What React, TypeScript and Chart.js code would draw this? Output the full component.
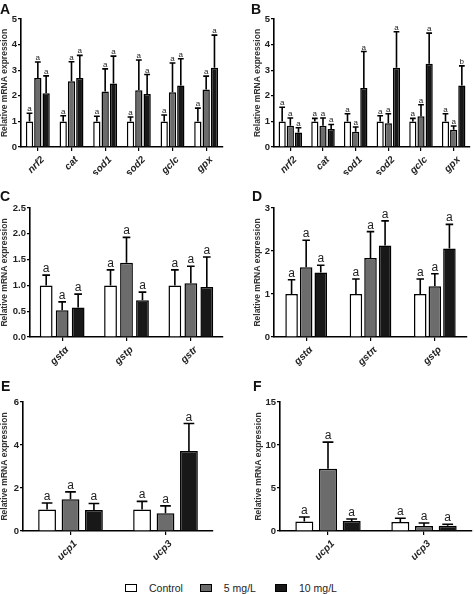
import React, { useEffect, useRef } from "react";
import { Chart, registerables } from "chart.js";

Chart.register(...registerables);

// ---------- data ----------
const seriesNames = ["Control", "5 mg/L", "10 mg/L"];

const catsA = ["nrf2", "cat", "sod1", "sod2", "gclc", "gpx"];
const ctrlA = [1, 1, 1, 1, 1, 1];
const ctrlSdA = [0.32, 0.22, 0.2, 0.17, 0.25, 0.52];
const low5A = [2.7, 2.57, 2.17, 2.22, 2.14, 2.25];
const low5SdA = [0.62, 0.76, 0.88, 1.18, 1.14, 0.52];
const high10A = [2.1, 2.7, 2.48, 2.07, 2.4, 3.1];
const high10SdA = [0.68, 0.88, 1.07, 0.76, 1.05, 1.27];
const sigCtrlA = ["a", "a", "a", "a", "a", "a"];
const sig5A = ["a", "a", "a", "a", "a", "a"];
const sig10A = ["a", "a", "a", "a", "a", "a"];
const ticksA = [0, 1, 2, 3, 4, 5];

const catsB = ["nrf2", "cat", "sod1", "sod2", "gclc", "gpx"];
const ctrlB = [1, 1, 1, 1, 1, 1];
const ctrlSdB = [0.55, 0.12, 0.3, 0.22, 0.12, 0.3];
const low5B = [0.83, 0.83, 0.6, 0.93, 1.2, 0.67];
const low5SdB = [0.3, 0.3, 0.18, 0.37, 0.45, 0.15];
const high10B = [0.57, 0.7, 2.3, 3.1, 3.25, 2.4];
const high10SdB = [0.18, 0.18, 1.43, 1.4, 1.2, 0.77];
const sigCtrlB = ["a", "a", "a", "a", "a", "a"];
const sig5B = ["a", "a", "a", "a", "a", "a"];
const sig10B = ["a", "a", "a", "a", "a", "b"];
const ticksB = [0, 1, 2, 3, 4, 5];

const catsC = ["gstα", "gstp", "gstr"];
const ctrlC = [1, 1, 1];
const ctrlSdC = [0.2, 0.3, 0.3];
const low5C = [0.52, 1.44, 1.04];
const low5SdC = [0.16, 0.49, 0.33];
const high10C = [0.57, 0.71, 0.97];
const high10SdC = [0.26, 0.16, 0.58];
const sigCtrlC = ["a", "a", "a"];
const sig5C = ["a", "a", "a"];
const sig10C = ["a", "a", "a"];
const ticksC = [0, 0.5, 1, 1.5, 2, 2.5];

const catsD = ["gstα", "gstπ", "gstρ"];
const ctrlD = [1, 1, 1];
const ctrlSdD = [0.33, 0.35, 0.35];
const low5D = [1.62, 1.84, 1.18];
const low5SdD = [0.63, 0.61, 0.29];
const high10D = [1.5, 2.13, 2.06];
const high10SdD = [0.17, 0.57, 0.56];
const sigCtrlD = ["a", "a", "a"];
const sig5D = ["a", "a", "a"];
const sig10D = ["a", "a", "a"];
const ticksD = [0, 1, 2, 3];

const catsE = ["ucp1", "ucp3"];
const ctrlE = [1, 1];
const ctrlSdE = [0.3, 0.38];
const low5E = [1.48, 0.83];
const low5SdE = [0.34, 0.34];
const high10E = [0.98, 3.72];
const high10SdE = [0.3, 1.28];
const sigCtrlE = ["a", "a"];
const sig5E = ["a", "a"];
const sig10E = ["a", "a"];
const ticksE = [0, 2, 4, 6];

const catsF = ["ucp1", "ucp3"];
const ctrlF = [1.1, 1.05];
const ctrlSdF = [0.52, 0.43];
const low5F = [7.24, 0.58];
const low5SdF = [3.1, 0.35];
const high10F = [1.15, 0.62];
const high10SdF = [0.25, 0.16];
const sigCtrlF = ["a", "a"];
const sig5F = ["a", "a"];
const sig10F = ["a", "a"];
const ticksF = [0, 5, 10, 15];

// ---------- styles ----------
const FONT = "'Liberation Sans', Arial, Helvetica, sans-serif";
const fills = ["#ffffff", "#6c6c6c", "#181818"];

type Panel = {
  letter: string;
  cats: string[];
  values: number[][];
  sds: number[][];
  sigs: string[][];
  ticks: number[];
  decimals: number;
  left: number;
  top: number;
  w: number;
  h: number;
  padLeft: number;
  yW: number;
  padTop: number;
  padRight: number;
  xH: number;
  catPct: number;
  barPct: number;
  capRatio: number;
  sigSize: number;
  sigGap: number;
  letterX: number;
  letterY: number;
};

const panels: Panel[] = [
  {
    letter: "A", cats: catsA,
    values: [ctrlA, low5A, high10A], sds: [ctrlSdA, low5SdA, high10SdA], sigs: [sigCtrlA, sig5A, sig10A],
    ticks: ticksA, decimals: 0,
    left: 0, top: 0, w: 237, h: 175, padLeft: 0, yW: 21, padTop: 19, padRight: 14, xH: 28,
    catPct: 0.74, barPct: 0.88, capRatio: 0.8, sigSize: 8, sigGap: 1, letterX: 0, letterY: 2,
  },
  {
    letter: "B", cats: catsB,
    values: [ctrlB, low5B, high10B], sds: [ctrlSdB, low5SdB, high10SdB], sigs: [sigCtrlB, sig5B, sig10B],
    ticks: ticksB, decimals: 0,
    left: 237, top: 0, w: 237, h: 175, padLeft: 16, yW: 21, padTop: 19, padRight: 4, xH: 28,
    catPct: 0.75, barPct: 0.88, capRatio: 0.8, sigSize: 8, sigGap: 1, letterX: 251, letterY: 2,
  },
  {
    letter: "C", cats: catsC,
    values: [ctrlC, low5C, high10C], sds: [ctrlSdC, low5SdC, high10SdC], sigs: [sigCtrlC, sig5C, sig10C],
    ticks: ticksC, decimals: 1,
    left: 0, top: 175, w: 237, h: 195, padLeft: 0, yW: 30, padTop: 33, padRight: 14, xH: 33,
    catPct: 0.745, barPct: 0.8, capRatio: 0.6, sigSize: 12, sigGap: 2, letterX: 0, letterY: 189,
  },
  {
    letter: "D", cats: catsD,
    values: [ctrlD, low5D, high10D], sds: [ctrlSdD, low5SdD, high10SdD], sigs: [sigCtrlD, sig5D, sig10D],
    ticks: ticksD, decimals: 0,
    left: 237, top: 175, w: 237, h: 195, padLeft: 16, yW: 21, padTop: 33, padRight: 7, xH: 33,
    catPct: 0.68, barPct: 0.86, capRatio: 0.6, sigSize: 12, sigGap: 2, letterX: 252, letterY: 189,
  },
  {
    letter: "E", cats: catsE,
    values: [ctrlE, low5E, high10E], sds: [ctrlSdE, low5SdE, high10SdE], sigs: [sigCtrlE, sig5E, sig10E],
    ticks: ticksE, decimals: 0,
    left: 0, top: 370, w: 237, h: 190, padLeft: 0, yW: 23, padTop: 32, padRight: 24, xH: 29,
    catPct: 0.74, barPct: 0.76, capRatio: 0.6, sigSize: 12, sigGap: 2, letterX: 1, letterY: 379,
  },
  {
    letter: "F", cats: catsF,
    values: [ctrlF, low5F, high10F], sds: [ctrlSdF, low5SdF, high10SdF], sigs: [sigCtrlF, sig5F, sig10F],
    ticks: ticksF, decimals: 0,
    left: 237, top: 370, w: 237, h: 190, padLeft: 17, yW: 26, padTop: 32, padRight: 2, xH: 29,
    catPct: 0.74, barPct: 0.76, capRatio: 0.6, sigSize: 12, sigGap: 2, letterX: 253, letterY: 379,
  },
];

const errorBarPlugin = {
  id: "errorBars",
  afterDatasetsDraw(chart: any, _args: any, opts: any) {
    const ctx = chart.ctx;
    const yScale = chart.scales.y;
    chart.data.datasets.forEach((ds: any, i: number) => {
      const meta = chart.getDatasetMeta(i);
      meta.data.forEach((bar: any, j: number) => {
        const v = ds.data[j];
        const sd = ds.sd[j];
        const base = yScale.getPixelForValue(v);
        const top = yScale.getPixelForValue(v + sd);
        const half = (bar.width * opts.capRatio) / 2;
        ctx.save();
        ctx.strokeStyle = "#000";
        ctx.lineWidth = 1.6;
        ctx.beginPath();
        ctx.moveTo(bar.x, base);
        ctx.lineTo(bar.x, top);
        ctx.moveTo(bar.x - half, top);
        ctx.lineTo(bar.x + half, top);
        ctx.stroke();
        ctx.fillStyle = "#222";
        ctx.font = `${opts.sigSize}px ${FONT}`;
        ctx.textAlign = "center";
        ctx.textBaseline = "alphabetic";
        ctx.fillText(ds.sig[j], bar.x, top - opts.sigGap - 1);
        ctx.restore();
      });
    });
  },
};

function PanelChart({ p }: { p: Panel }) {
  const ref = useRef<HTMLCanvasElement | null>(null);
  useEffect(() => {
    if (!ref.current) return;
    const maxTick = p.ticks[p.ticks.length - 1];
    const chart = new Chart(ref.current, {
      type: "bar",
      data: {
        labels: p.cats,
        datasets: seriesNames.map((name, i) => ({
          label: name,
          data: p.values[i],
          sd: p.sds[i],
          sig: p.sigs[i],
          backgroundColor: fills[i],
          borderColor: "#000",
          borderWidth: 1.5,
          borderSkipped: "start",
          categoryPercentage: p.catPct,
          barPercentage: p.barPct,
        })) as any,
      },
      options: {
        animation: false,
        responsive: false,
        devicePixelRatio: 1,
        events: [],
        layout: { padding: { left: p.padLeft, top: p.padTop, right: p.padRight, bottom: 0 } },
        plugins: {
          legend: { display: false },
          tooltip: { enabled: false },
          errorBars: { capRatio: p.capRatio, sigSize: p.sigSize, sigGap: p.sigGap },
        } as any,
        scales: {
          x: {
            offset: true,
            grid: {
              offset: false,
              drawOnChartArea: false,
              drawTicks: true,
              tickLength: 4,
              color: "#000",
              lineWidth: 1.2,
            },
            border: { display: true, color: "#000", width: 1.6 },
            ticks: {
              autoSkip: false,
              minRotation: 45,
              maxRotation: 45,
              padding: 3,
              labelOffset: 5,
              color: "#222",
              font: { family: FONT, size: 10, weight: "bold", style: "italic" },
            },
            afterFit: (s: any) => {
              s.height = p.xH;
            },
          },
          y: {
            min: 0,
            max: maxTick,
            afterBuildTicks: (s: any) => {
              s.ticks = p.ticks.map((v) => ({ value: v }));
            },
            grid: {
              drawOnChartArea: false,
              drawTicks: true,
              tickLength: 3,
              color: "#000",
              lineWidth: 1.2,
            },
            border: { display: true, color: "#000", width: 1.6 },
            ticks: {
              padding: 1,
              color: "#222",
              font: { family: FONT, size: 9.5, weight: "bold" },
              callback: (v: any) => Number(v).toFixed(p.decimals),
            },
            title: {
              display: true,
              text: "Relative mRNA expression",
              color: "#333",
              padding: 0,
              font: { family: FONT, size: 8.5, weight: "bold" },
            },
            afterFit: (s: any) => {
              s.width = p.yW;
            },
          },
        },
      },
      plugins: [errorBarPlugin as any],
    });
    return () => chart.destroy();
  }, [p]);

  return (
    <canvas
      ref={ref}
      width={p.w}
      height={p.h}
      style={{ position: "absolute", left: p.left, top: p.top, width: p.w, height: p.h }}
    />
  );
}

export default function App() {
  return (
    <div
      style={{
        position: "fixed",
        left: 0,
        top: 0,
        width: 474,
        height: 594,
        background: "#fff",
        overflow: "hidden",
        fontFamily: FONT,
      }}
    >
      {panels.map((p) => (
        <PanelChart key={p.letter} p={p} />
      ))}
      {panels.map((p) => (
        <div
          key={"l" + p.letter}
          style={{
            position: "absolute",
            left: p.letterX,
            top: p.letterY,
            fontSize: 14,
            fontWeight: "bold",
            color: "#111",
            lineHeight: "14px",
          }}
        >
          {p.letter}
        </div>
      ))}
      <div
        style={{
          position: "absolute",
          left: 125,
          top: 582,
          display: "flex",
          alignItems: "center",
          fontSize: 10.5,
          color: "#222",
          lineHeight: "12px",
        }}
      >
        {seriesNames.map((name, i) => (
          <div key={name} style={{ display: "flex", alignItems: "center", marginRight: i === 0 ? 17 : 19 }}>
            <span
              style={{
                display: "inline-block",
                width: 10,
                height: 6,
                background: fills[i],
                border: "1.5px solid #000",
                marginRight: 12,
              }}
            />
            <span>{name}</span>
          </div>
        ))}
      </div>
    </div>
  );
}
